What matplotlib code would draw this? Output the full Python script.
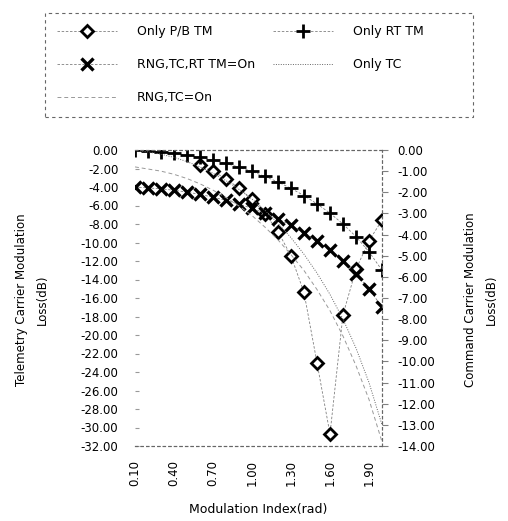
import matplotlib
matplotlib.use('Agg')
import matplotlib.pyplot as plt
from matplotlib.patches import Rectangle

nan = float('nan')

# modulation index (rad)
mod_index = [0.1, 0.2, 0.3, 0.4, 0.5, 0.6, 0.7, 0.8, 0.9, 1.0,
             1.1, 1.2, 1.3, 1.4, 1.5, 1.6, 1.7, 1.8, 1.9, 2.0]

# telemetry carrier loss (dB), left axis
only_pb_tm = [nan, nan, nan, nan, nan, -1.64, -2.30, -3.12, -4.12, -5.35,
              -6.87, -8.82, -11.45, -15.4, -23.0, -30.7, -17.8, -12.9, -9.8, -7.6]
only_rt_tm = [-0.02, -0.09, -0.20, -0.35, -0.55, -0.80, -1.10, -1.45, -1.86, -2.32,
              -2.86, -3.46, -4.15, -4.93, -5.82, -6.83, -8.00, -9.37, -11.0, -13.0]
rng_tc_rt_on = [-4.0, -4.1, -4.2, -4.35, -4.55, -4.8, -5.1, -5.45, -5.85, -6.3,
                -6.85, -7.45, -8.15, -8.95, -9.8, -10.8, -12.0, -13.4, -15.0, -17.0]

# command carrier loss (dB), right axis
only_tc = [-0.02, -0.09, -0.20, -0.35, -0.55, -0.80, -1.10, -1.45, -1.86, -2.32,
           -2.86, -3.46, -4.15, -4.93, -5.82, -6.83, -8.00, -9.37, -11.0, -13.0]
rng_tc_on = [-0.8, -0.9, -1.0, -1.15, -1.35, -1.6, -1.9, -2.25, -2.65, -3.1,
             -3.65, -4.25, -4.95, -5.7, -6.6, -7.6, -8.8, -10.2, -11.8, -13.8]

x_ticks = [0.1, 0.4, 0.7, 1.0, 1.3, 1.6, 1.9]
left_ticks = list(range(0, -33, -2))
right_ticks = list(range(0, -15, -1))

plt.rcParams['font.family'] = ['DejaVu Sans']
plt.rcParams['font.size'] = 8.5

W, H = 508, 521
fig = plt.figure(figsize=(W / 100, H / 100), dpi=100)
ax = fig.add_axes([135 / W, 1 - 446 / H, 247 / W, 296 / H])
ax2 = ax.twinx()

h1, = ax.plot(mod_index, only_pb_tm, color='0.5', lw=0.6, ls=(0, (3, 2)),
              marker='D', ms=6, mfc='white', mec='black', mew=2, label='Only P/B TM')
h2, = ax.plot(mod_index, only_rt_tm, color='0.5', lw=0.6, ls=(0, (3, 2)),
              marker='+', ms=10, mec='black', mew=2, label='Only RT TM')
h3, = ax.plot(mod_index, rng_tc_rt_on, color='0.5', lw=0.6, ls=(0, (3, 2)),
              marker='x', ms=9, mec='black', mew=2.4, label='RNG,TC,RT TM=On')
h4, = ax2.plot(mod_index, only_tc, color='0.4', lw=0.7, ls=(0, (1, 1.5)), label='Only TC')
h5, = ax2.plot(mod_index, rng_tc_on, color='0.6', lw=0.7, ls=(0, (4, 3)), label='RNG,TC=On')

ax.set_xlim(0.1, 2.0)
ax.set_ylim(-32, 0)
ax2.set_ylim(-14, 0)
ax.set_xticks(x_ticks)
ax.set_xticklabels(['%.2f' % v for v in x_ticks], rotation=90)
ax.set_yticks(left_ticks)
ax.set_yticklabels(['%.2f' % v for v in left_ticks])
ax2.set_yticks(right_ticks)
ax2.set_yticklabels(['%.2f' % v for v in right_ticks])

ax.tick_params(axis='x', length=0, pad=10)
ax.tick_params(axis='y', direction='in', length=3, color='0.6', pad=12)
ax2.tick_params(axis='y', direction='out', length=4, color='0.5', pad=7)

for a in (ax, ax2):
    for side in ('top', 'right', 'bottom', 'left'):
        a.spines[side].set_linestyle((0, (2, 3)))
        a.spines[side].set_color('0.4')
        a.spines[side].set_linewidth(0.8)
    a.spines['left'].set_visible(False)

fig.text(258 / W, 1 - 510 / H, 'Modulation Index(rad)', ha='center', va='center', fontsize=9)
fig.text(32 / W, 1 - 300 / H, 'Telemetry Carrier Modulation\nLoss(dB)', rotation=90,
         ha='center', va='center', fontsize=8.5, linespacing=1.7)
fig.text(481 / W, 1 - 300 / H, 'Command Carrier Modulation\nLoss(dB)', rotation=90,
         ha='center', va='center', fontsize=8.5, linespacing=1.7)

# legend box drawn separately so the columns can sit where the original has them
fig.patches.append(Rectangle((45 / W, 1 - 117 / H), 428 / W, 104 / H, transform=fig.transFigure,
                             fill=False, ec='0.4', lw=0.8, ls=(0, (3, 3))))
leg = fig.legend([h1, h3, h5, h2, h4],
                 ['Only P/B TM', 'RNG,TC,RT TM=On', 'RNG,TC=On', 'Only RT TM', 'Only TC'],
                 ncol=2, loc='upper left', bbox_to_anchor=(57 / W, 1 - 25 / H),
                 frameon=False, fontsize=9, borderpad=0, borderaxespad=0,
                 handlelength=4.8, handletextpad=1.6, labelspacing=1.6,
                 columnspacing=1.4)

fig.savefig('out.png', dpi=100)
